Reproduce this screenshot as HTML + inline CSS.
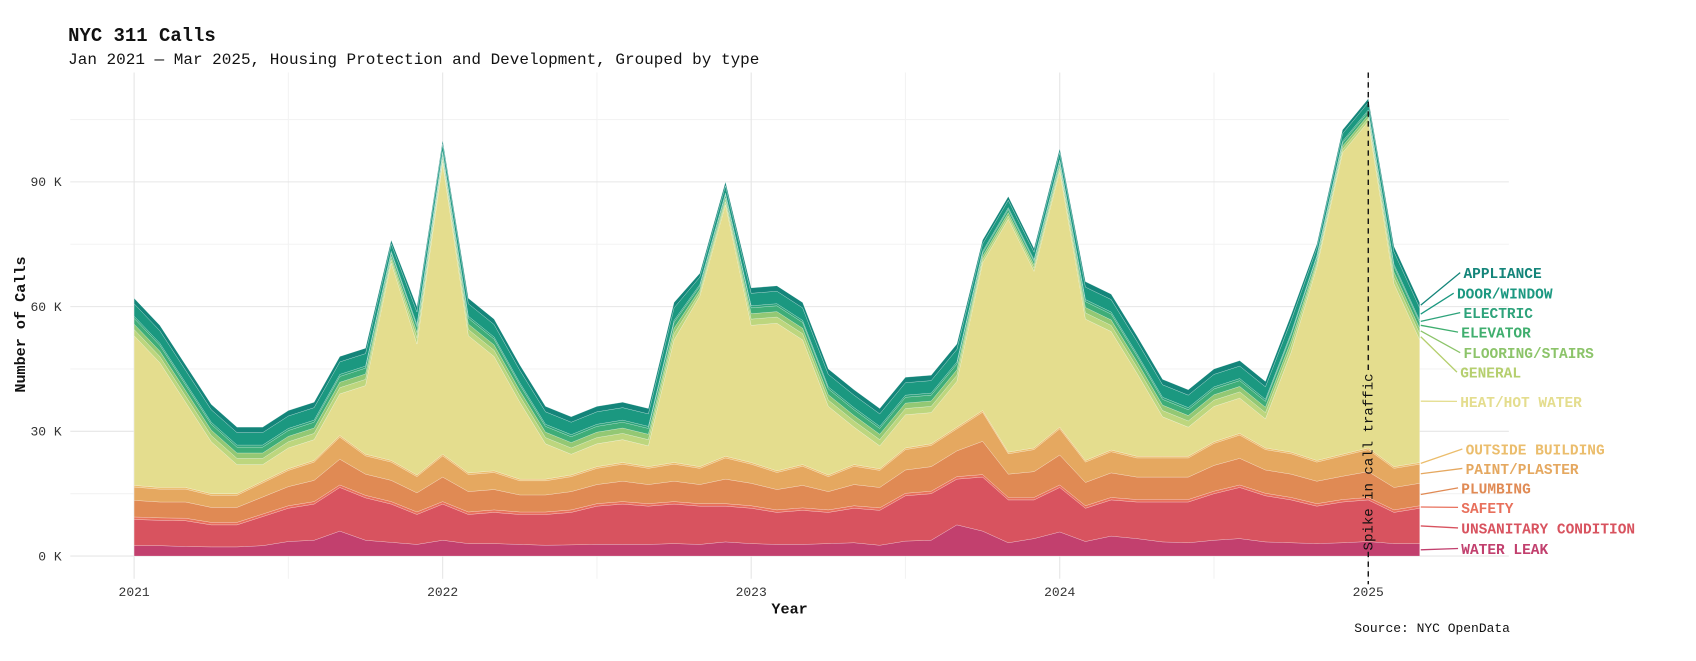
<!DOCTYPE html>
<html><head><meta charset="utf-8">
<style>
body{margin:0;background:#fff;width:1696px;height:661px;overflow:hidden;font-family:"Liberation Mono","DejaVu Sans Mono",monospace;}
svg{display:block;}
svg text{font-family:"Liberation Mono","DejaVu Sans Mono",monospace;}
</style></head>
<body>
<svg id="chart" width="1696" height="661" viewBox="0 0 1568 611" preserveAspectRatio="none" xmlns="http://www.w3.org/2000/svg">
<text x="63" y="38" font-size="17.5" font-weight="bold" fill="#111">NYC 311 Calls</text>
<text x="63" y="59" font-size="14.8" fill="#111">Jan 2021 — Mar 2025, Housing Protection and Development, Grouped by type</text>
<g id="grid"></g>
<g id="areas"></g>
<g id="annot"></g>
<g id="axes"></g>
<g id="labels"></g>
<text x="730" y="567" font-size="14" font-weight="bold" text-anchor="middle" fill="#111">Year</text>
<text transform="translate(23,300) rotate(-90)" font-size="14" font-weight="bold" text-anchor="middle" fill="#111">Number of Calls</text>
<text x="1396" y="584" font-size="12" text-anchor="end" fill="#111">Source: NYC OpenData</text>
</svg>
<script>
const seriesNames=["WATER LEAK","UNSANITARY CONDITION","SAFETY","PLUMBING","PAINT/PLASTER","OUTSIDE BUILDING","HEAT/HOT WATER","GENERAL","FLOORING/STAIRS","ELEVATOR","ELECTRIC","DOOR/WINDOW","APPLIANCE"];
const waterLeak=[2.5,2.5,2.3,2.2,2.2,2.5,3.5,3.8,6,3.8,3.3,2.8,3.8,3,3,2.8,2.6,2.7,2.8,2.8,2.8,3,2.8,3.4,3,2.8,2.8,3,3.2,2.6,3.6,3.8,7.5,6,3.2,4.2,5.8,3.5,4.8,4.2,3.4,3.2,3.8,4.2,3.4,3.2,3,3.2,3.5,3,3];
const unsanitary=[6.3,6.1,6.2,5.3,5.3,7,8,8.7,10.5,10.2,9.2,7.2,8.7,7,7.5,7.2,7.4,7.8,9.2,9.7,9.2,9.5,9.2,8.6,8.5,7.7,8.2,7.5,8.3,8.4,10.9,11.2,11,13,10.3,9.3,10.7,8,8.7,8.8,9.6,9.8,11.2,12.3,11.1,10.3,9,9.8,10,7.5,8.5];
const safety=[0.6,0.6,0.6,0.6,0.6,0.6,0.6,0.6,0.6,0.6,0.6,0.6,0.6,0.6,0.6,0.6,0.6,0.6,0.6,0.6,0.6,0.6,0.6,0.6,0.6,0.6,0.6,0.6,0.6,0.6,0.6,0.6,0.6,0.6,0.6,0.6,0.6,0.6,0.6,0.6,0.6,0.6,0.6,0.6,0.6,0.6,0.6,0.6,0.6,0.6,0.6];
const plumbing=[4,3.8,3.9,3.6,3.6,4.1,4.6,5.1,6.2,5.1,5.1,4.6,5.9,4.9,4.9,4.1,4.1,4.4,4.6,4.9,4.6,4.9,4.6,5.9,5.4,4.9,5.4,4.4,5.1,4.9,5.6,5.9,6.2,8,5.6,6.2,7.2,5.6,5.9,5.4,5.4,5.4,6.2,6.4,5.6,5.6,5.4,5.6,6.2,5.4,5.4];
const paintPlaster=[3.2,3.1,3.1,2.9,2.9,3.4,3.9,4.4,5.3,4.4,4.4,3.9,5.1,4.1,4.1,3.4,3.4,3.6,3.9,4.1,3.9,4.1,3.9,5.1,4.6,4.1,4.6,3.6,4.4,4.1,4.9,5.1,5.3,7,4.9,5.3,6.3,4.9,5.1,4.6,4.6,4.6,5.3,5.6,4.9,4.9,4.6,4.9,5.3,4.6,4.6];
const outsideBuilding=[0.4,0.4,0.4,0.4,0.4,0.4,0.4,0.4,0.4,0.4,0.4,0.4,0.4,0.4,0.4,0.4,0.4,0.4,0.4,0.4,0.4,0.4,0.4,0.4,0.4,0.4,0.4,0.4,0.4,0.4,0.4,0.4,0.4,0.4,0.4,0.4,0.4,0.4,0.4,0.4,0.4,0.4,0.4,0.4,0.4,0.4,0.4,0.4,0.4,0.4,0.4];
const heatHotWater=[36,30,20.5,12.5,7,4,5,5,10,16.5,47.5,31.5,70,33,27.5,18.5,8.5,5,5.5,5.5,5,29.5,41,60.5,33,35.5,30,16.5,9,5.5,8,7.5,11,35.5,56,42.5,61.5,34,28.5,20,9.5,7,8.5,8.5,7,24,46.5,72.5,78.5,44,29.5];
const general=[1.5,1.5,1.5,1.5,1.5,1.5,1.5,1.5,1.5,1.5,0.8,1.5,0.8,1.5,1.5,1.5,1.5,1.5,1.5,1.5,1.5,1.5,0.8,0.8,1.5,1.5,1.5,1.5,1.5,1.5,1.5,1.5,1.5,0.8,0.8,0.8,0.8,1.5,1.5,1.5,1.5,1.5,1.5,1.5,1.5,1.5,0.8,0.8,0.8,1.5,1.5];
const flooringStairs=[1.3,1.3,1.3,1.3,1.3,1.3,1.3,1.3,1.3,1.3,0.8,1.3,0.8,1.3,1.3,1.3,1.3,1.3,1.3,1.3,1.3,1.3,0.8,0.8,1.3,1.3,1.3,1.3,1.3,1.3,1.3,1.3,1.3,0.8,0.8,0.8,0.8,1.3,1.3,1.3,1.3,1.3,1.3,1.3,1.3,1.3,0.8,0.8,0.8,1.3,1.3];
const elevator=[1.4,1.4,1.4,1.4,1.4,1.4,1.4,1.4,1.4,1.4,0.8,1.4,0.8,1.4,1.4,1.4,1.4,1.4,1.4,1.4,1.4,1.4,0.8,0.8,1.4,1.4,1.4,1.4,1.4,1.4,1.4,1.4,1.4,0.8,0.8,0.8,0.8,1.4,1.4,1.4,1.4,1.4,1.4,1.4,1.4,1.4,0.8,0.8,0.8,1.4,1.4];
const electric=[0.5,0.5,0.5,0.5,0.5,0.5,0.5,0.5,0.5,0.5,0.4,0.5,0.4,0.5,0.5,0.5,0.5,0.5,0.5,0.5,0.5,0.5,0.4,0.4,0.5,0.5,0.5,0.5,0.5,0.5,0.5,0.5,0.5,0.4,0.4,0.4,0.4,0.5,0.5,0.5,0.5,0.5,0.5,0.5,0.5,0.5,0.4,0.4,0.4,0.5,0.5];
const doorWindow=[3,3,3,3,3,3,3,3,3,3,1.8,3,1.8,3,3,3,3,3,3,3,3,3,1.8,1.8,3,3,3,3,3,3,3,3,3,1.8,1.8,1.8,1.8,3,3,3,3,3,3,3,3,3,1.8,1.8,1.8,3,3];
const appliance=[1.3,1.3,1.3,1.3,1.3,1.3,1.3,1.3,1.3,1.3,0.9,1.3,0.9,1.3,1.3,1.3,1.3,1.3,1.3,1.3,1.3,1.3,0.9,0.9,1.3,1.3,1.3,1.3,1.3,1.3,1.3,1.3,1.3,0.9,0.9,0.9,0.9,1.3,1.3,1.3,1.3,1.3,1.3,1.3,1.3,1.3,0.9,0.9,0.9,1.3,1.3];
const yTickValues=[0,30,60,90];
const yTickLabels=["0 K","30 K","60 K","90 K"];
const xTickYears=[2021,2022,2023,2024,2025];
const spikeMonthIndex=48;

const NS="http://www.w3.org/2000/svg";
const series=[waterLeak,unsanitary,safety,plumbing,paintPlaster,outsideBuilding,heatHotWater,general,flooringStairs,elevator,electric,doorWindow,appliance];
const colors=["#c2406e","#d8535f","#e8705c","#e08a54","#e5a860","#ebbd6c","#e4dd8e","#bdd67e","#93c874","#3ead78","#2ea37b","#1b9880","#14857a"];
const labelColors=["#c2406e","#d8535f","#e8705c","#e08a54","#e5a860","#ebbd6c","#e4dd8e","#b5cf6e","#8cc46a","#3fae6e","#2ea37b","#1b9880","#14857a"];
const keys=["water-leak","unsanitary-condition","safety","plumbing","paint-plaster","outside-building","heat-hot-water","general","flooring-stairs","elevator","electric","door-window","appliance"];
function xMonth(i){return 124+i*(1141/48);}
function xYear(y){return 124+(y-2021)*285.25;}
function yVal(v){return 514-v*3.843;}
function el(tag,attrs,parent){const e=document.createElementNS(NS,tag);for(const k in attrs)e.setAttribute(k,attrs[k]);parent.appendChild(e);return e;}

const grid=document.getElementById('grid');
for(let v=15;v<=105;v+=30){const l=el('line',{x1:65,x2:1395,y1:yVal(v),y2:yVal(v),stroke:'#f3f3f3','stroke-width':1},grid);

}
for(let y=2020.5;y<=2024.5;y+=1){const l=el('line',{x1:xYear(y),x2:xYear(y),y1:67,y2:535,stroke:'#f3f3f3','stroke-width':1},grid);

}
yTickValues.forEach(v=>{const l=el('line',{x1:65,x2:1395,y1:yVal(v),y2:yVal(v),stroke:'#e6e6e6','stroke-width':1},grid);

});
xTickYears.forEach(y=>{const l=el('line',{x1:xYear(y),x2:xYear(y),y1:67,y2:535,stroke:'#e6e6e6','stroke-width':1},grid);

});

const n=waterLeak.length;
const base=new Array(n).fill(0);
const areas=document.getElementById('areas');
const ends=[];
series.forEach((s,k)=>{
  const top=base.map((b,i)=>b+s[i]);
  let d='M'+xMonth(0)+','+yVal(top[0]);
  for(let i=1;i<n;i++)d+='L'+xMonth(i)+','+yVal(top[i]);
  for(let i=n-1;i>=0;i--)d+='L'+xMonth(i)+','+yVal(base[i]);
  d+='Z';
  const p=el('path',{d:d,fill:colors[k],stroke:'#ffffff','stroke-width':0.4,'stroke-opacity':0.5},areas);
  
  
  ends.push((base[n-1]+top[n-1])/2);
  for(let i=0;i<n;i++)base[i]=top[i];
});

const annot=document.getElementById('annot');
const sx=xMonth(spikeMonthIndex);
const dl1=el('line',{x1:sx,x2:sx,y1:67,y2:345,stroke:'#111','stroke-width':1.3,'stroke-dasharray':'5,4'},annot);


const dl2=el('line',{x1:sx,x2:sx,y1:510,y2:540,stroke:'#111','stroke-width':1.3,'stroke-dasharray':'5,4'},annot);


const st=el('text',{transform:'translate('+(sx+4)+',427) rotate(-90)','font-size':13,'text-anchor':'middle',fill:'#111'},annot);
st.textContent='Spike in call traffic';



const axes=document.getElementById('axes');
yTickValues.forEach((v,i)=>{const t=el('text',{x:57,y:yVal(v)+4,'font-size':12,'text-anchor':'end',fill:'#333'},axes);t.textContent=yTickLabels[i];

});
xTickYears.forEach(y=>{const t=el('text',{x:xYear(y),y:551,'font-size':12,'text-anchor':'middle',fill:'#333'},axes);t.textContent=String(y);

});

const labelY=[512,493,474,456,438,420,376,349,331,312,294,276,257];
const labelX=[1351,1351,1351,1351,1355,1355,1350,1350,1353,1351,1353,1347,1353];
const labels=document.getElementById('labels');
const lx=xMonth(n-1);
series.forEach((s,k)=>{
  const ln=el('line',{x1:lx+1,y1:yVal(ends[k]),x2:labelX[k]-3,y2:labelY[k]-5,stroke:labelColors[k],'stroke-width':1.2},labels);
  
  
  const t=el('text',{x:labelX[k],y:labelY[k],'font-size':13.4,'font-weight':'bold',fill:labelColors[k]},labels);
  t.textContent=seriesNames[k];
  
  
});
</script>
</body></html>
